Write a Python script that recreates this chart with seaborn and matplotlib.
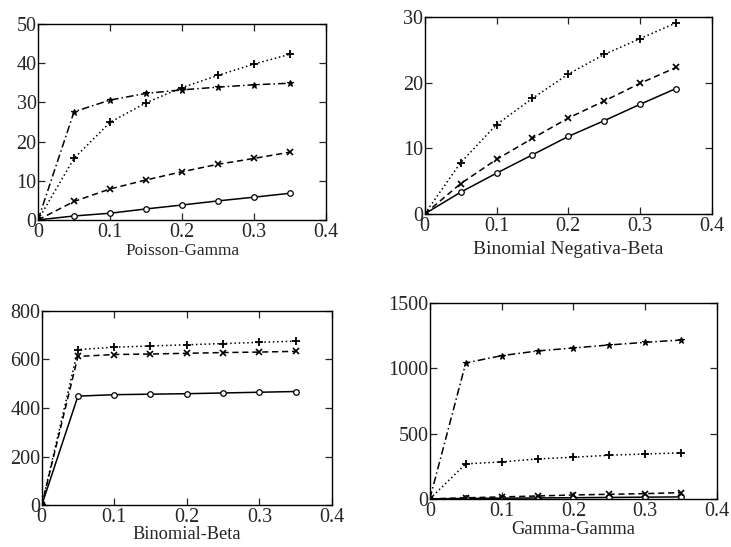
import matplotlib
matplotlib.use("Agg")
import matplotlib.pyplot as plt
import seaborn as sns
import pandas as pd

x = [0, 0.05, 0.10, 0.15, 0.20, 0.25, 0.30, 0.35]

# Poisson-Gamma
pg_solid = [0, 1.0, 1.7, 2.8, 3.8, 4.85, 5.8, 6.8]
pg_dash = [0, 4.7, 7.9, 10.2, 12.3, 14.2, 15.7, 17.3]
pg_dot = [0, 15.7, 24.9, 29.9, 33.8, 36.9, 39.8, 42.3]
pg_dashdot = [0, 27.6, 30.6, 32.3, 33.2, 33.9, 34.5, 34.9]

# Binomial Negativa-Beta
bnb_solid = [0, 3.3, 6.2, 9.0, 11.8, 14.2, 16.7, 19.1]
bnb_dash = [0, 4.6, 8.3, 11.5, 14.6, 17.2, 19.9, 22.3]
bnb_dot = [0, 7.8, 13.6, 17.6, 21.3, 24.3, 26.7, 29.1]

# Binomial-Beta
bb_solid = [0, 449, 455, 457, 459, 462, 465, 468]
bb_dash = [0, 612, 620, 622, 625, 628, 630, 633]
bb_dot = [0, 640, 650, 655, 660, 665, 670, 675]

# Gamma-Gamma
gg_solid = [0, 3, 5, 7, 9, 11, 13, 15]
gg_dash = [0, 8, 15, 22, 30, 35, 40, 48]
gg_dot = [0, 268, 283, 306, 319, 334, 344, 352]
gg_dashdot = [0, 1041, 1097, 1133, 1156, 1179, 1199, 1217]

titles = ["Poisson-Gamma", "Binomial Negativa-Beta", "Binomial-Beta", "Gamma-Gamma"]
yticks = [[0, 10, 20, 30, 40, 50], [0, 10, 20, 30], [0, 200, 400, 600, 800], [0, 500, 1000, 1500]]
xticks = [0, 0.1, 0.2, 0.3, 0.4]
xtick_labels = ["0", "0.1", "0.2", "0.3", "0.4"]

styles = {
    "solid": dict(linestyle="-", marker="o", markersize=4, markerfacecolor="white", markeredgewidth=0.9),
    "dash": dict(linestyle=(0, (4, 2.5)), marker="x", markersize=5, markeredgewidth=1.2),
    "dot": dict(linestyle=(0, (1, 1.8)), marker="+", markersize=6, markeredgewidth=1.3),
    "dashdot": dict(linestyle=(0, (5, 2, 1, 2)), marker="*", markersize=5, markeredgewidth=0.8),
}

panels = [
    [("solid", pg_solid), ("dash", pg_dash), ("dot", pg_dot), ("dashdot", pg_dashdot)],
    [("solid", bnb_solid), ("dash", bnb_dash), ("dot", bnb_dot)],
    [("solid", bb_solid), ("dash", bb_dash), ("dot", bb_dot)],
    [("solid", gg_solid), ("dash", gg_dash), ("dot", gg_dot), ("dashdot", gg_dashdot)],
]

positions = [
    [0.052, 0.598, 0.394, 0.358],
    [0.581, 0.609, 0.393, 0.360],
    [0.057, 0.076, 0.397, 0.356],
    [0.588, 0.088, 0.393, 0.358],
]
label_sizes = [12.4, 14, 13.2, 13.4]
label_pads = [1, 4, -1, 0]

sns.set_style("ticks")
plt.rcParams["font.family"] = ["Liberation Serif", "DejaVu Serif"]

fig = plt.figure(figsize=(7.31, 5.47), dpi=100)
for i, (pos, series) in enumerate(zip(positions, panels)):
    ax = fig.add_axes(pos)
    for key, vals in series:
        df = pd.DataFrame({"x": x, "y": vals})
        sns.lineplot(data=df, x="x", y="y", ax=ax, color="black", linewidth=1.1,
                     markeredgecolor="black", **styles[key])
    ax.set_xlim(0, 0.4)
    ax.set_ylim(yticks[i][0], yticks[i][-1])
    ax.set_xticks(xticks)
    ax.set_xticklabels(xtick_labels)
    ax.set_yticks(yticks[i])
    ax.set_ylabel("")
    ax.set_xlabel(titles[i], fontsize=label_sizes[i], labelpad=label_pads[i])
    ax.tick_params(direction="in", top=True, right=True, length=5, width=0.9,
                   labelsize=14.5)
    ax.tick_params(axis="x", pad=2)
    ax.tick_params(axis="y", pad=1)
    for sp in ax.spines.values():
        sp.set_linewidth(1.0)
        sp.set_color("black")

fig.savefig("out.png", dpi=100)
